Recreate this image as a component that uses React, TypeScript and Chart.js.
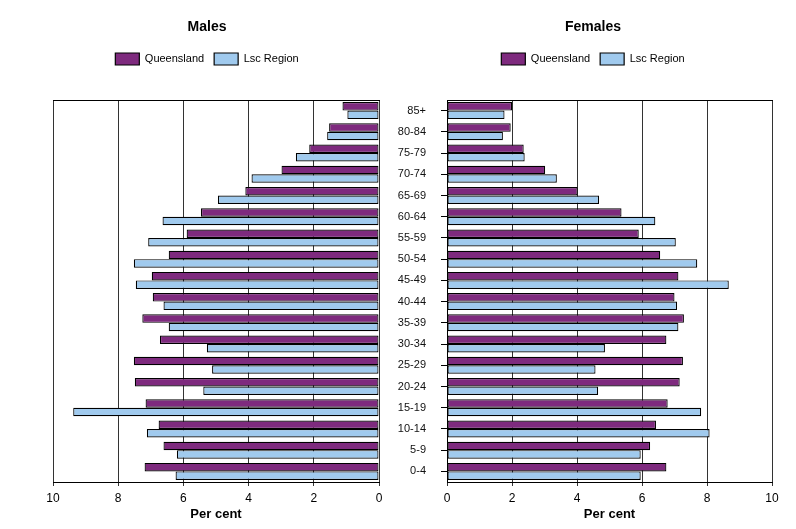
import React, { useEffect, useRef } from "react";
import { Chart, registerables } from "chart.js";

Chart.register(...registerables);
Chart.defaults.font.family = '"Liberation Sans", Arial, sans-serif';
Chart.defaults.color = "#000";

// Age groups, top of pyramid to bottom
const ageGroups = [
  "85+", "80-84", "75-79", "70-74", "65-69", "60-64", "55-59", "50-54", "45-49",
  "40-44", "35-39", "30-34", "25-29", "20-24", "15-19", "10-14", "5-9", "0-4",
];

const maleQueensland = [1.12, 1.53, 2.14, 2.99, 4.1, 5.46, 5.9, 6.45, 6.97, 6.94, 7.26, 6.72, 7.52, 7.49, 7.16, 6.76, 6.61, 7.19];
const maleLsc = [0.97, 1.59, 2.55, 3.91, 4.94, 6.64, 7.08, 7.52, 7.46, 6.61, 6.45, 5.28, 5.12, 5.39, 9.38, 7.12, 6.2, 6.24];
const femaleQueensland = [2.0, 1.96, 2.36, 3.02, 4.02, 5.37, 5.9, 6.56, 7.12, 7.0, 7.29, 6.75, 7.26, 7.16, 6.79, 6.43, 6.25, 6.75];
const femaleLsc = [1.77, 1.72, 2.39, 3.38, 4.68, 6.41, 7.04, 7.7, 8.67, 7.08, 7.12, 4.86, 4.57, 4.65, 7.82, 8.08, 5.96, 5.96];

const xTicks = [0, 2, 4, 6, 8, 10];
const seriesNames = ["Queensland", "Lsc Region"];

const PURPLE = "#7E2A7E";
const BLUE = "#A0CAEE";
const GRID = "#333";

function makeConfig(isMale: boolean): any {
  const q = isMale ? maleQueensland : femaleQueensland;
  const l = isMale ? maleLsc : femaleLsc;
  const ds = (label: string, data: number[], color: string) => ({
    label,
    data,
    backgroundColor: color,
    borderColor: "#000",
    borderWidth: 1.2,
    borderSkipped: false,
    categoryPercentage: 0.8,
    barPercentage: 1.0,
  });
  const xBottom: any = {
    type: "linear",
    position: "bottom",
    min: 0,
    max: 10,
    reverse: isMale,
    afterBuildTicks: (s: any) => {
      s.ticks = xTicks.map((v) => ({ value: v }));
    },
    ticks: { font: { size: 12 }, color: "#000", padding: 5 },
    grid: { color: GRID, lineWidth: 1, tickLength: 4, drawTicks: true },
    border: { display: true, color: "#000", width: 1 },
    title: {
      display: true,
      text: "Per cent",
      font: { size: 13, weight: "bold" },
      color: "#000",
      padding: { top: 0, bottom: 7 },
    },
    afterFit: (s: any) => {
      s.height = 47;
    },
  };
  const xTop: any = {
    type: "linear",
    position: "top",
    min: 0,
    max: 10,
    reverse: isMale,
    ticks: { display: false },
    grid: { display: false, drawTicks: false },
    border: { display: true, color: "#000", width: 1 },
    afterFit: (s: any) => {
      s.height = 25;
    },
  };
  const scales: any = { x: xBottom, xTop };
  if (isMale) {
    scales.y = {
      type: "category",
      position: "left",
      display: true,
      ticks: { display: false },
      grid: { display: false, drawTicks: false },
      border: { display: false },
      afterFit: (s: any) => {
        s.width = 18;
      },
    };
  } else {
    scales.y = {
      type: "category",
      position: "left",
      display: true,
      ticks: { font: { size: 11 }, color: "#111", padding: 15 },
      grid: {
        display: true,
        drawOnChartArea: false,
        drawTicks: true,
        tickLength: 6,
        offset: false,
        color: "#000",
      },
      border: { display: true, color: "#000", width: 1 },
      afterFit: (s: any) => {
        s.width = 57;
      },
    };
    scales.yR = {
      type: "category",
      position: "right",
      labels: ageGroups,
      display: true,
      ticks: { display: false },
      grid: { display: false, drawTicks: false },
      border: { display: false },
      afterFit: (s: any) => {
        s.width = 24;
      },
    };
  }
  return {
    type: "bar",
    data: {
      labels: ageGroups,
      datasets: [ds(seriesNames[0], q, PURPLE), ds(seriesNames[1], l, BLUE)],
    },
    options: {
      indexAxis: "y",
      animation: false,
      responsive: false,
      maintainAspectRatio: false,
      layout: {
        padding: isMale
          ? { top: 10, left: 35, right: 11, bottom: 0 }
          : { top: 10, left: 0, right: 0, bottom: 0 },
      },
      plugins: {
        title: {
          display: true,
          text: isMale ? "Males" : "Females",
          font: { size: 14, weight: "bold" },
          color: "#000",
          padding: { top: 8.6, bottom: 7.6 },
        },
        legend: {
          display: true,
          labels: {
            boxWidth: 24,
            boxHeight: 12,
            font: { size: 11 },
            color: "#000",
            padding: 10,
          },
        },
        tooltip: { enabled: false },
      },
      scales,
    },
  };
}

function Half({ isMale, left, width }: { isMale: boolean; left: number; width: number }) {
  const ref = useRef<HTMLCanvasElement | null>(null);
  useEffect(() => {
    if (!ref.current) return;
    const chart = new Chart(ref.current, makeConfig(isMale));
    return () => chart.destroy();
  }, [isMale]);
  return (
    <canvas
      ref={ref}
      width={width}
      height={529}
      style={{ position: "absolute", left, top: 0, width, height: 529 }}
    />
  );
}

export default function App() {
  return (
    <div
      style={{
        position: "absolute",
        left: 0,
        top: 0,
        width: 796,
        height: 529,
        background: "#fff",
        overflow: "hidden",
      }}
    >
      <Half isMale={true} left={0} width={390} />
      <Half isMale={false} left={390} width={406} />
    </div>
  );
}
